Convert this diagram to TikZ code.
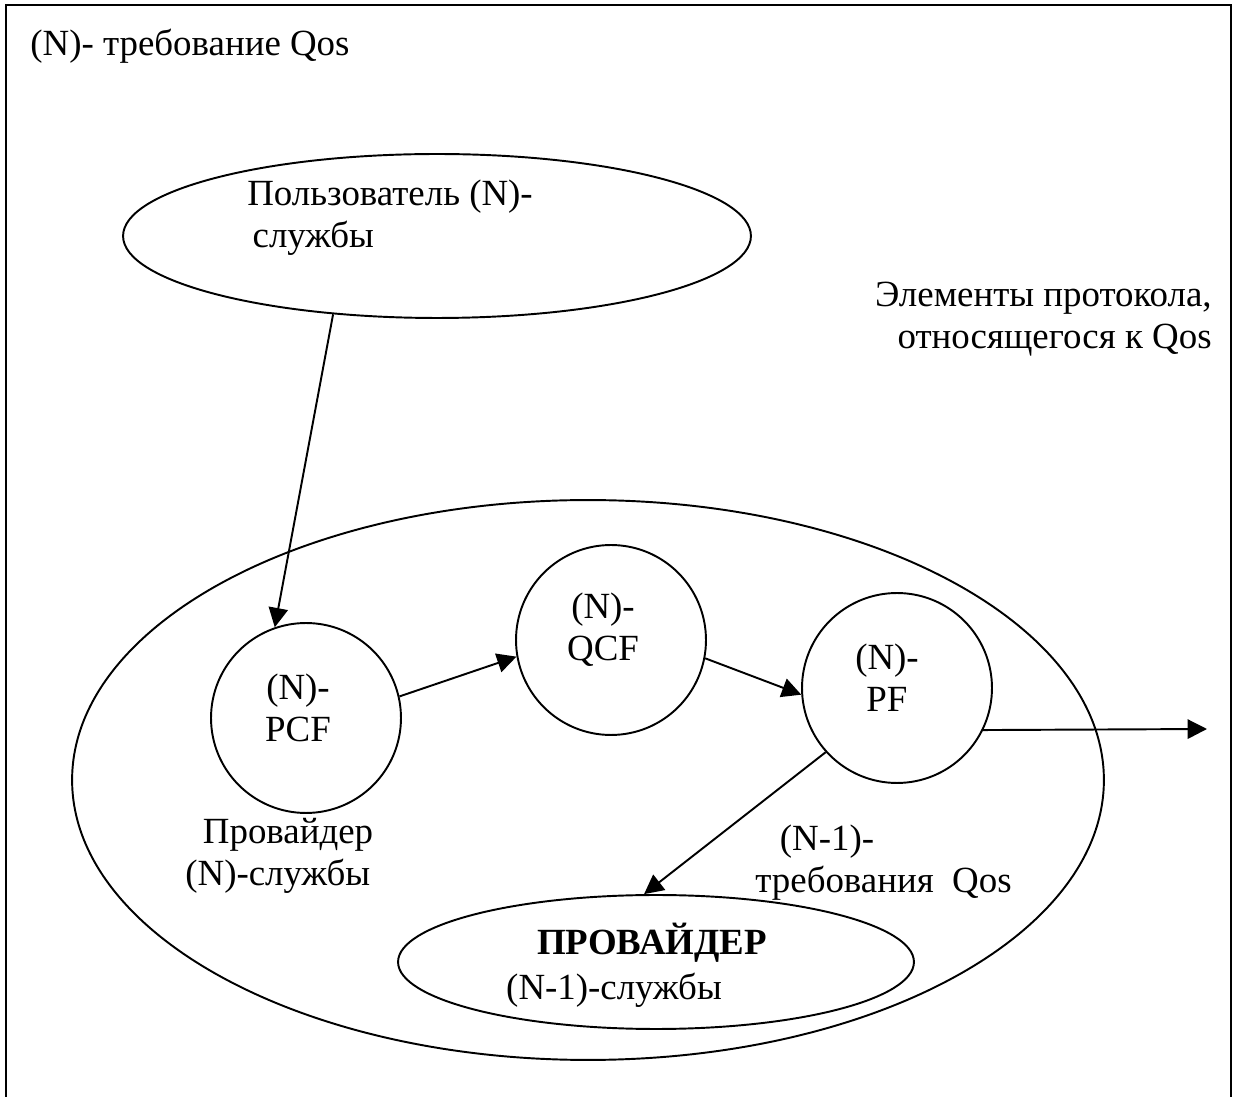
\documentclass[tikz,border=0pt]{standalone}
\usepackage{fontspec}
\setmainfont{Liberation Serif}
\usetikzlibrary{arrows.meta, positioning, shapes.geometric}

\begin{document}
\begin{tikzpicture}[x=0.02cm, y=-0.02cm,
  every node/.style={font=\fontsize{21}{24}\selectfont},
  oval/.style={draw, ellipse, line width=1.1pt, inner sep=0pt},
  fn/.style={draw, circle, line width=1.1pt, minimum size=3.8cm, inner sep=0pt},
  txt/.style={inner sep=0pt, align=left},
  arrow/.style={-{Triangle[length=11pt,width=11pt]}, line width=1.1pt}
]
  \useasboundingbox (0,0) rectangle (1235,1097);
  \draw[line width=1.4pt] (6,1097) -- (6,5) -- (1231,5) -- (1231,1097);

  \node[txt, anchor=base west] (title) at (30,56) {(N)- требование Qos};

  \node[oval, minimum width=12.56cm, minimum height=3.28cm] (user) at (437,236) {};
  \node[txt, anchor=west] (usertext) at (247,218) {Пользователь (N)-\\\hspace{3pt}службы};
  \node[txt, align=right, anchor=east] (elem) at (1212,319) {Элементы протокола,\\относящегося к Qos};

  \node[oval, minimum width=20.64cm, minimum height=11.2cm] (prov) at (588,780) {};
  \node[fn] (pcf) at (306,718) {};
  \node[fn] (qcf) at (611,640) {};
  \node[fn] (pf) at (897,688) {};
  \node[txt, align=center] (pcftext) at (298,708) {(N)-\\PCF};
  \node[txt, align=center] (qcftext) at (603,630) {(N)-\\QCF};
  \node[txt, align=center] (pftext) at (887,678) {(N)-\\PF};
  \node[txt, anchor=west] (provtext) at (185,856) {\hspace{10pt}Провайдер\\(N)-службы};
  \node[txt, anchor=west] (reqtext) at (755,863) {\hspace{14pt}(N-1)-\\требования\ \ Qos};

  \node[oval, minimum width=10.32cm, minimum height=2.68cm] (low) at (656,962) {};
  \node[txt] (lowtitle) at (652,943) {\bfseries ПРОВАЙДЕР};
  \node[txt] (lowtext) at (614,990) {(N-1)-службы};
  \coordinate (exit) at (1207,729);

  \draw[arrow] (user.217) -- (pcf.109);
  \draw[arrow] (pcf.13) -- (qcf.190);
  \draw[arrow] (qcf.349) -- (pf.184);
  \draw[arrow] (pf.334) -- (exit);
  \draw[arrow] (pf.222) -- (low.100);
\end{tikzpicture}
\end{document}
